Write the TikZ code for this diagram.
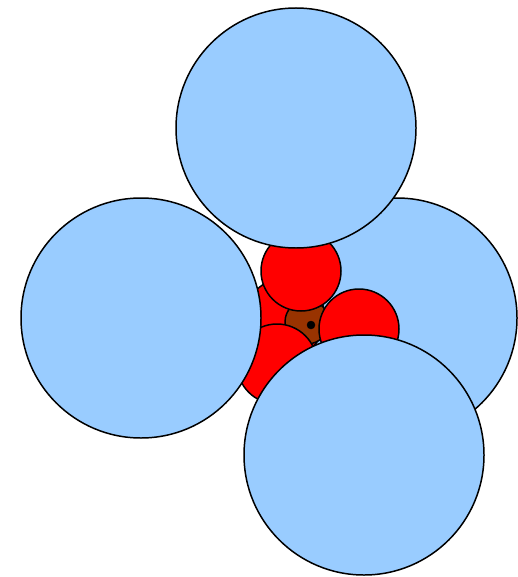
\documentclass[tikz,border=0pt]{standalone}
\usepackage{tikz}
\definecolor{ballblue}{RGB}{153,204,255}
\definecolor{ballred}{RGB}{255,0,0}
\definecolor{ballbrown}{RGB}{153,51,0}
\tikzset{
  bigball/.style={draw=black, line width=1.5pt, fill=ballblue},
  redball/.style={draw=black, line width=1.5pt, fill=ballred},
  coreball/.style={draw=black, line width=1.5pt, fill=ballbrown},
  centredot/.style={draw=black, fill=black},
}
\begin{document}
\begin{tikzpicture}[x=1bp,y=-1bp]
  \useasboundingbox (0,0) rectangle (518,577);

  % back layer
  \draw[bigball] (397,318) circle (120);
  \draw[redball] (285,318) circle (40);

  % core with centre mark
  \draw[coreball] (307,322) circle (22);
  \fill[centredot] (311,325) circle (4);

  % front red balls
  \draw[redball] (301,271) circle (40);
  \draw[redball] (359,329) circle (40);
  \draw[redball] (277,364) circle (40);

  % front blue balls
  \draw[bigball] (296,128) circle (120);
  \draw[bigball] (141,318) circle (120);
  \draw[bigball] (364,455) circle (120);
\end{tikzpicture}
\end{document}
